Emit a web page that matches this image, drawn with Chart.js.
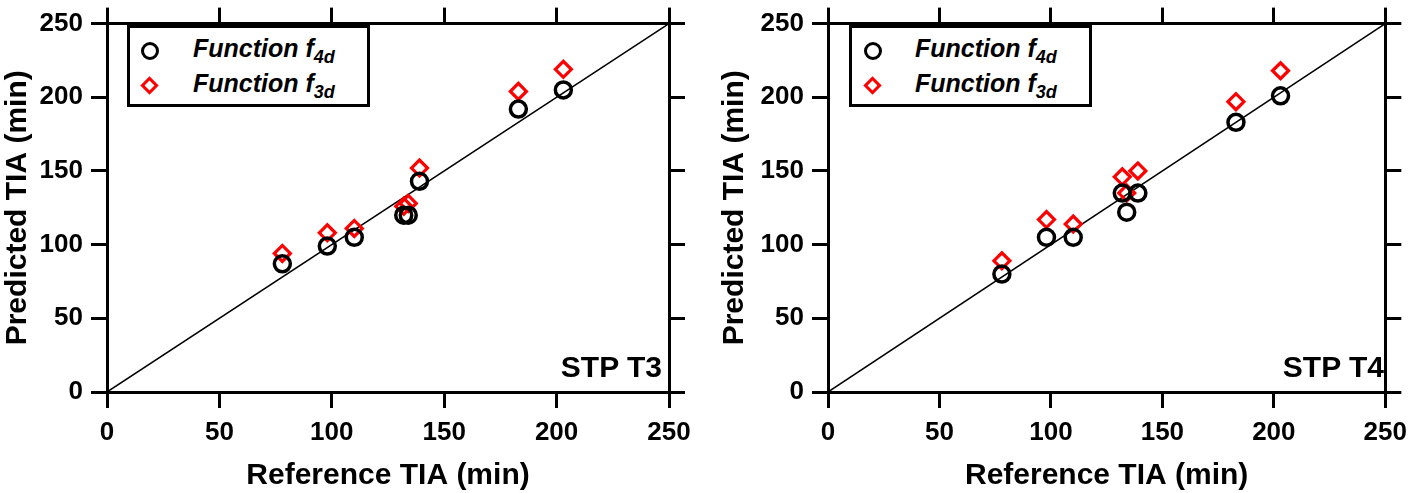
<!DOCTYPE html>
<html>
<head>
<meta charset="utf-8">
<script src="https://cdn.jsdelivr.net/npm/chart.js@4.4.1/dist/chart.umd.min.js"></script>
<style>
  body { margin: 0; background: #fff; width: 1416px; height: 493px; overflow: hidden; position: relative; font-family: "Liberation Sans", Arial, sans-serif; }
  .panel { position: absolute; top: 0; width: 708px; height: 493px; }
  .legend { position: absolute; border: 3px solid #000; background: #fff; box-sizing: border-box; width: 243px; height: 82px; }
  .legend .txt { position: absolute; left: 63px; font: italic bold 25px "Liberation Sans", Arial, sans-serif; line-height: 25px; white-space: nowrap; }
  .legend sub { font-size: 18px; vertical-align: -6px; line-height: 0; }
  .mk-circle { position: absolute; width: 18px; height: 18px; border: 3.5px solid #000; border-radius: 50%; box-sizing: border-box; }
  .mk-diamond { position: absolute; width: 13px; height: 13px; border: 3px solid #f00; box-sizing: border-box; transform: rotate(45deg); }
  .tag { position: absolute; font: bold 30px "Liberation Sans", Arial, sans-serif; line-height: 30px; text-align: right; white-space: nowrap; }
</style>
</head>
<body>
<div class="panel" style="left:0"><canvas id="chartT3" width="708" height="493"></canvas></div>
<div class="panel" style="left:708px"><canvas id="chartT4" width="708" height="493"></canvas></div>

<div class="legend" style="left:127px; top:25px;">
  <div class="mk-circle" style="left:11px; top:14px;"></div>
  <div class="txt" style="top:8px;">Function f<sub>4d</sub></div>
  <div class="mk-diamond" style="left:13px; top:51px;"></div>
  <div class="txt" style="top:43px;">Function f<sub>3d</sub></div>
</div>
<div class="legend" style="left:849px; top:25px;">
  <div class="mk-circle" style="left:12px; top:14px;"></div>
  <div class="txt" style="top:8px;">Function f<sub>4d</sub></div>
  <div class="mk-diamond" style="left:14px; top:51px;"></div>
  <div class="txt" style="top:43px;">Function f<sub>3d</sub></div>
</div>
<div class="tag" style="right:754px; top:352px;">STP T3</div>
<div class="tag" style="right:32px; top:352px;">STP T4</div>

<script>
document.addEventListener('DOMContentLoaded', function () {
  // reference TIA values shared by both panels (min)
  const refTIA = [78, 98, 110, 132, 134, 139, 183, 203];

  // predicted TIA, STP T3
  const t3F4d = [87, 99, 105, 120, 120, 143, 192, 205];
  const t3F3d = [94, 108, 111, 126, 128, 152, 204, 219];

  // predicted TIA, STP T4
  const t4F4d = [80, 105, 105, 135, 122, 135, 183, 201];
  const t4F3d = [89, 117, 114, 146, 135, 150, 197, 218];

  // identity line and axis ticks
  const identityLine = [0, 250];
  const tickValues = [0, 50, 100, 150, 200, 250];

  const tickFont = { family: '"Liberation Sans", Arial, sans-serif', size: 26, weight: 'bold' };
  const titleFont = { family: '"Liberation Sans", Arial, sans-serif', size: 30, weight: 'bold', lineHeight: 1 };

  function toPoints(xs, ys) {
    return xs.map((x, i) => ({ x: x, y: ys[i] }));
  }

  // builds one panel; box holds the pixel sizes of the axis strips
  function makeChart(canvasId, f4d, f3d, box) {
    const mainGrid = { drawOnChartArea: false, color: '#000', lineWidth: 3, tickLength: 16 };
    const border = { color: '#000', width: 3 };

    return new Chart(document.getElementById(canvasId).getContext('2d'), {
      type: 'scatter',
      data: {
        datasets: [
          {
            label: 'Function f4d',
            data: toPoints(refTIA, f4d),
            pointStyle: 'circle',
            pointRadius: 8,
            pointBorderWidth: 3.5,
            borderColor: '#000',
            backgroundColor: 'rgba(0,0,0,0)'
          },
          {
            label: 'Function f3d',
            data: toPoints(refTIA, f3d),
            pointStyle: 'rectRot',
            pointRadius: 8,
            pointBorderWidth: 3.2,
            borderColor: '#ff0000',
            backgroundColor: 'rgba(0,0,0,0)'
          },
          {
            label: 'identity',
            data: toPoints(identityLine, identityLine),
            showLine: true,
            pointRadius: 0,
            borderWidth: 1.5,
            borderColor: '#000'
          }
        ]
      },
      options: {
        responsive: false,
        animation: false,
        devicePixelRatio: 1,
        layout: { padding: 0 },
        plugins: { legend: { display: false }, tooltip: { enabled: false } },
        scales: {
          x: {
            type: 'linear', position: 'bottom', min: 0, max: 250,
            afterBuildTicks: s => { s.ticks = tickValues.map(v => ({ value: v })); },
            afterFit: s => { s.height = box.bottom; },
            grid: mainGrid, border: border,
            ticks: { color: '#000', font: tickFont, padding: 9, maxRotation: 0 },
            title: { display: true, text: 'Reference TIA (min)', color: '#000', font: titleFont, padding: { top: 0, bottom: 2 } }
          },
          y: {
            type: 'linear', position: 'left', min: 0, max: 250,
            afterBuildTicks: s => { s.ticks = tickValues.map(v => ({ value: v })); },
            afterFit: s => { s.width = box.left; },
            grid: mainGrid, border: border,
            ticks: { color: '#000', font: tickFont, padding: 8 },
            title: { display: true, text: 'Predicted TIA (min)', color: '#000', font: titleFont, padding: { top: box.titlePad, bottom: 0 } }
          },
          xTop: {
            type: 'linear', position: 'top', min: 0, max: 250,
            afterBuildTicks: s => { s.ticks = tickValues.map(v => ({ value: v })); },
            afterFit: s => { s.height = box.top; },
            grid: mainGrid, border: border,
            ticks: { display: false }
          },
          yRight: {
            type: 'linear', position: 'right', min: 0, max: 250,
            afterBuildTicks: s => { s.ticks = tickValues.map(v => ({ value: v })); },
            afterFit: s => { s.width = box.right; },
            grid: mainGrid, border: border,
            ticks: { display: false }
          }
        }
      }
    });
  }

  // left panel: plot area 107..669 x 16..392
  let t3Chart = makeChart('chartT3', t3F4d, t3F3d, { left: 107, right: 39, top: 16, bottom: 101, titlePad: 2.5 });
  // right panel: plot area 828..1391 (120..683 inside its canvas)
  let t4Chart = makeChart('chartT4', t4F4d, t4F3d, { left: 120, right: 25, top: 16, bottom: 101, titlePad: 11.5 });
});
</script>
</body>
</html>
